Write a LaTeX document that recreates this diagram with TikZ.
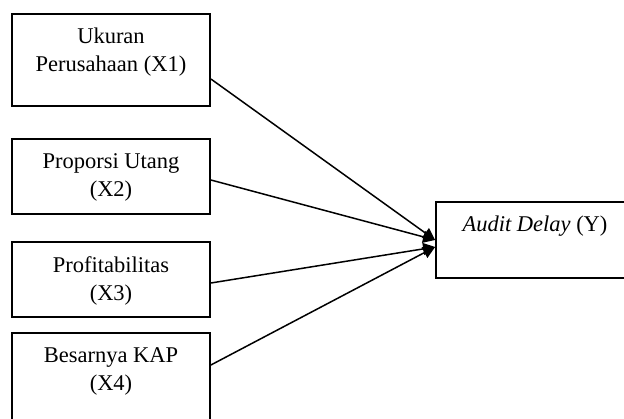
\documentclass[tikz,border=0pt]{standalone}
\usepackage{fontspec}
\setmainfont{Liberation Serif}
\usetikzlibrary{arrows.meta}

\begin{document}
\begin{tikzpicture}[x=1pt, y=-1pt,
    varbox/.style={draw=black, line width=1.8pt, inner sep=0pt, minimum width=198pt},
    boxtext/.style={anchor=north, yshift=-15pt, inner sep=0pt, align=center, font=\fontsize{22.5}{28}\selectfont},
    link/.style={line width=1.5pt, -{Triangle[length=12pt,width=12pt]}}]
    \useasboundingbox (0,0) rectangle (624,419);
    \clip (0,0) rectangle (624,419);
            \node[varbox, minimum height=92pt, label={[boxtext]north:Ukuran\\Perusahaan (X1)}] (x1) at (111,60) {};
            \node[varbox, minimum height=75pt, label={[boxtext]north:Proporsi Utang\\(X2)}] (x2) [below of=x1, node distance=116.5pt] {};
            \node[varbox, minimum height=75pt, label={[boxtext]north:Profitabilitas\\(X3)}] (x3) [below of=x2, node distance=103pt] {};
            \node[varbox, minimum height=92pt, label={[boxtext]north:Besarnya KAP\\(X4)}] (x4) [below of=x3, node distance=99.5pt] {};
            \node[varbox, minimum height=76pt, label={[boxtext]north:\textit{Audit Delay} (Y)}] (y) at (535,240) {};

            \draw [link] ([yshift=-19pt]x1.east) -- (y.west);
            \draw [link] ([yshift=-3.5pt]x2.east) -- (y.west);
            \draw [link] ([yshift=-3.5pt]x3.east) -- ([yshift=-7pt]y.west);
            \draw [link] ([yshift=14pt]x4.east) -- ([yshift=-7pt]y.west);
        \end{tikzpicture}
\end{document}
